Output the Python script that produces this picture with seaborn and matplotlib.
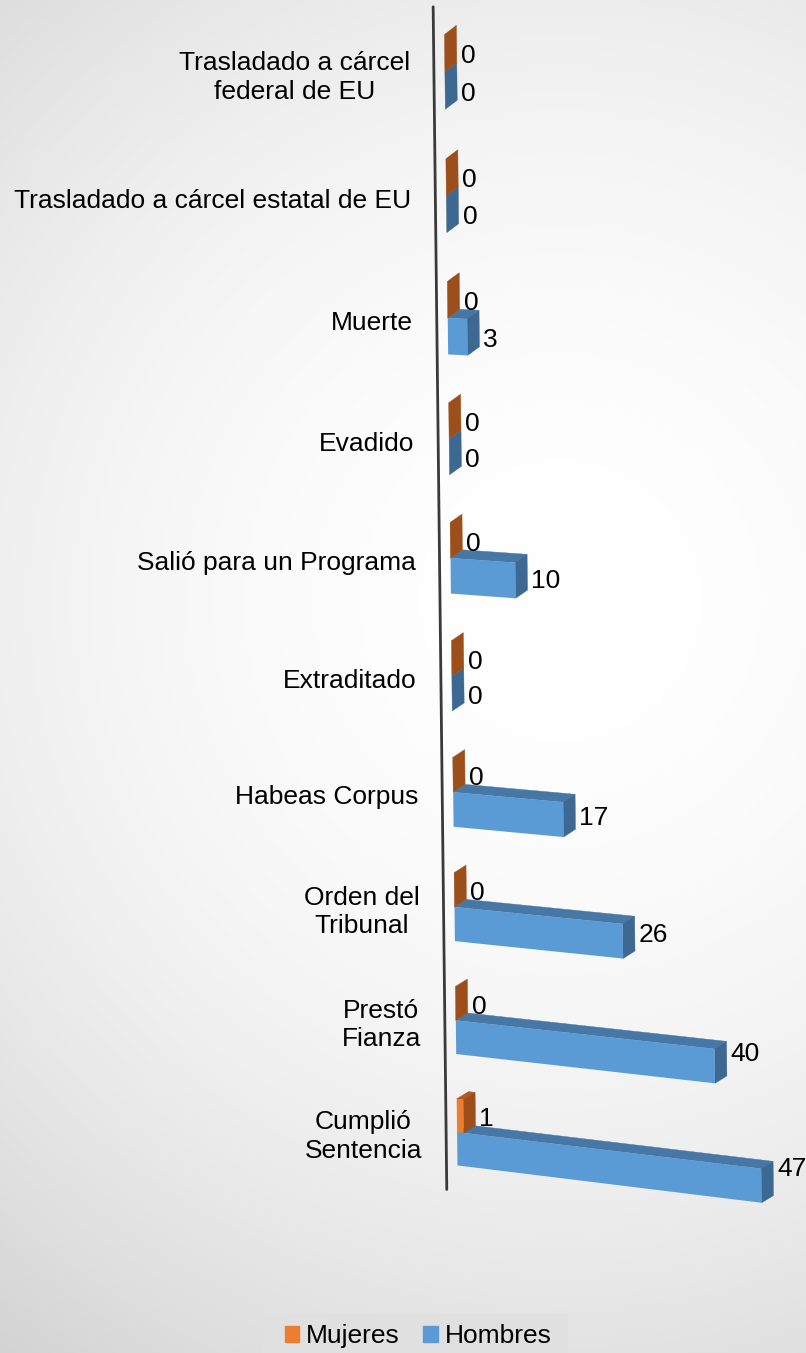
import numpy as np
import pandas as pd
import matplotlib.pyplot as plt
import matplotlib.patches as mpatches
import matplotlib.lines as mlines
from matplotlib.transforms import Transform
import seaborn as sns

sns.set_style("white")
plt.rcParams['font.family'] = ['Liberation Sans', 'DejaVu Sans']
plt.rcParams['text.color'] = 'black'

# datos
categorias = ["Trasladado a cárcel\nfederal de EU", "Trasladado a cárcel estatal de EU",
              "Muerte", "Evadido", "Salió para un Programa", "Extraditado",
              "Habeas Corpus", "Orden del\nTribunal", "Prestó\nFianza", "Cumplió\nSentencia"]
mujeres = [0, 0, 0, 0, 0, 0, 0, 0, 0, 1]
hombres = [0, 0, 3, 0, 10, 0, 17, 26, 40, 47]
series = ['Mujeres', 'Hombres']
colores = ['#ED7D31', '#5B9BD5']
# (cara superior, cara lateral) para el efecto 3D
caras = {'Mujeres': ('#B05A22', '#9C4E1B'), 'Hombres': ('#4777A5', '#3D6891')}

df = pd.DataFrame({
    'categoria': categorias * 2,
    'sexo': ['Mujeres'] * len(categorias) + ['Hombres'] * len(categorias),
    'valor': mujeres + hombres,
})

W, H = 806, 1353
X_EJE = 440          # posicion del eje (px)
X_MIN = -1.7
PX_UNIDAD = 6.47
Y_CAT0 = 72
PASO = 117.78
X_CERO = X_EJE - X_MIN * PX_UNIDAD


class Perspectiva(Transform):
    """Deforma la grafica plana para imitar la perspectiva 3D de Excel."""
    input_dims = 2
    output_dims = 2
    is_separable = False
    has_inverse = False

    def __init__(self, factor=1.0):
        super().__init__()
        self.factor = factor

    def transform_non_affine(self, values):
        v = np.atleast_2d(np.asarray(values, dtype=float))
        x = v[:, 0]
        y = H - v[:, 1]
        t = (y - Y_CAT0) / PASO
        y = Y_CAT0 + 124.5 * t - 0.745 * t ** 2
        pend = self.factor * (0.07 + (y - 558) * 8.7e-5)
        x_n = x + 0.0115 * (y - 602)
        y_n = y + pend * (x - X_CERO)
        return np.column_stack([x_n, H - y_n])


fig = plt.figure(figsize=(W / 100, H / 100), dpi=100)

# fondo con degradado radial
bg = fig.add_axes([0, 0, 1, 1], zorder=-10)
yy, xx = np.mgrid[0:H, 0:W]
r = np.clip(np.hypot(xx - 560, yy - 600) / 950, 0, 1)
gris = (255 - 45 * r ** 2) / 255
bg.imshow(np.dstack([gris] * 3), aspect='auto', extent=(0, 1, 0, 1), origin='upper')
bg.axis('off')

x_max = X_MIN + (W - X_EJE) / PX_UNIDAD
top_px = Y_CAT0 - PASO / 2
bot_px = Y_CAT0 + 9.5 * PASO
ax = fig.add_axes([X_EJE / W, 1 - bot_px / H, 1 - X_EJE / W, (bot_px - top_px) / H])

sns.barplot(data=df, x='valor', y='categoria', hue='sexo', order=categorias,
            hue_order=series, palette=colores, width=0.6, saturation=1,
            errorbar=None, orient='h', legend=False, ax=ax)
ax.set_xlim(X_MIN, x_max)
ax.set_ylim(9.5, -0.5)
ax.set_axis_off()

T = ax.transData + Perspectiva()
T_lab = ax.transData + Perspectiva(0.45)

ddx = 12 / PX_UNIDAD
ddy = -9 / PASO

for cont, sexo, z in zip(ax.containers, series, [2.3, 2.1]):
    c_top, c_side = caras[sexo]
    for bar, val in zip(cont, cont.datavalues):
        bar.set_transform(T)
        bar.set_zorder(z)
        bar.set_clip_on(False)
        bar.set_linewidth(0)
        x0, y0, w, h = bar.get_x(), bar.get_y(), bar.get_width(), bar.get_height()
        if w > 0:
            top = [(x0, y0), (x0 + w, y0), (x0 + w + ddx, y0 + ddy), (x0 + ddx, y0 + ddy)]
            ax.add_artist(mpatches.Polygon(top, closed=True, facecolor=c_top, edgecolor=c_top,
                                           lw=0.3, transform=T, zorder=z - 0.05, clip_on=False))
        side = [(x0 + w, y0), (x0 + w, y0 + h), (x0 + w + ddx, y0 + h + ddy), (x0 + w + ddx, y0 + ddy)]
        ax.add_artist(mpatches.Polygon(side, closed=True, facecolor=c_side, edgecolor=c_side,
                                       lw=0.3, transform=T, zorder=z - 0.05, clip_on=False))
        ax.annotate(f"{val:g}", xy=(x0 + w + ddx, y0 + h / 2), xycoords=T_lab,
                    xytext=(4, -3), textcoords='offset pixels', ha='left', va='center',
                    fontsize=19, color='black', annotation_clip=False, zorder=5)

# eje vertical inclinado
ax.add_artist(mlines.Line2D([X_MIN, X_MIN], [-0.52, 9.53], transform=T, color='#3a3a3a',
                            lw=2.0, clip_on=False, solid_capstyle='round'))

# etiquetas de categoria
for i, cat in enumerate(categorias):
    ax.annotate(cat, xy=(X_MIN, i), xycoords=T, xytext=(-24, -6), textcoords='offset pixels',
                ha='right', va='center', multialignment='center', linespacing=1.25,
                fontsize=19, color='black', annotation_clip=False)

# leyenda
fig.add_artist(mpatches.Rectangle((261 / W, 0), 307 / W, 39 / H, transform=fig.transFigure,
                                  facecolor='#e0e0e0', edgecolor='none', zorder=-5))
handles = [mpatches.Patch(color=c, label=s) for c, s in zip(colores, series)]
fig.legend(handles=handles, loc='center', bbox_to_anchor=(418 / W, 1 - 1336 / H), ncol=2,
           frameon=False, fontsize=19, handlelength=0.55, handleheight=0.55,
           handletextpad=0.25, columnspacing=0.9, borderpad=0, labelcolor='black')

fig.savefig('out.png', dpi=100)
